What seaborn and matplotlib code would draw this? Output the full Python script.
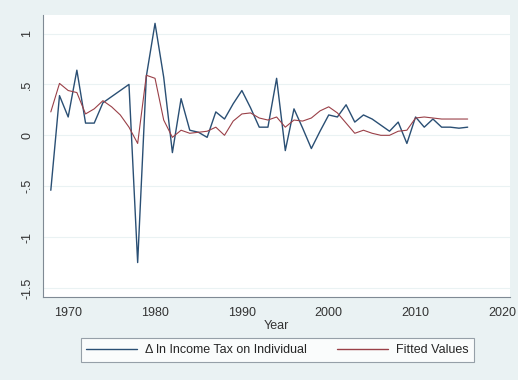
import numpy as np
import pandas as pd
import seaborn as sns
import matplotlib.pyplot as plt

years = list(range(1968, 2017))
actual = [-0.54, 0.39, 0.18, 0.64, 0.12, 0.12, 0.32, np.nan, np.nan, 0.50,
          -1.25, 0.58, 1.10, 0.57, -0.17, 0.36, 0.05, 0.03, -0.02, 0.23,
          0.16, 0.31, 0.44, 0.27, 0.08, 0.08, 0.56, -0.15, 0.26, 0.07,
          -0.13, 0.04, 0.20, 0.18, 0.30, 0.13, 0.20, 0.16, 0.10, 0.04,
          0.13, -0.08, 0.18, 0.08, 0.16, 0.08, 0.08, 0.07, 0.08]
fitted = [0.23, 0.51, 0.44, 0.42, 0.21, 0.26, 0.34, 0.28, 0.20, 0.08,
          -0.08, 0.59, 0.56, 0.15, -0.02, 0.05, 0.02, 0.03, 0.04, 0.08,
          0.00, 0.14, 0.21, 0.22, 0.17, 0.15, 0.18, 0.08, 0.15, 0.14,
          0.17, 0.24, 0.28, 0.22, 0.12, 0.02, 0.05, 0.02, 0.00, 0.00,
          0.04, 0.05, 0.17, 0.18, 0.17, 0.16, 0.16, 0.16, 0.16]
labels = ['Δ ln Income Tax on Individual', 'Fitted Values']
yticks = [-1.5, -1, -0.5, 0, 0.5, 1]
yticklabels = ['-1.5', '-1', '-.5', '0', '.5', '1']
xticks = [1970, 1980, 1990, 2000, 2010, 2020]

df = pd.DataFrame({'Year': years, labels[0]: actual, labels[1]: fitted})
long = df.melt(id_vars='Year', var_name='series', value_name='value').dropna()

sns.set_style('white')
plt.rcParams['font.family'] = ['Liberation Sans', 'DejaVu Sans']

bg = '#eaf2f3'
fig = plt.figure(figsize=(5.18, 3.80), dpi=100, facecolor=bg)
ax = fig.add_axes([0.083, 0.218, 0.902, 0.742])
ax.set_facecolor('white')

pal = {labels[0]: '#2a4f74', labels[1]: '#9a4048'}
sns.lineplot(data=long, x='Year', y='value', hue='series', palette=pal,
             size='series', sizes={labels[0]: 1.0, labels[1]: 0.8},
             estimator=None, sort=True, legend=False, ax=ax)

ax.set_xlim(1967.1, 2020.9)
ax.set_ylim(-1.59, 1.18)
ax.set_yticks(yticks)
ax.set_yticklabels(yticklabels, rotation=90, va='center')
ax.set_xticks(xticks)
for y in yticks:
    ax.axhline(y, color='#eaf2f3', lw=0.8, zorder=0)

for s in ['top', 'right']:
    ax.spines[s].set_visible(False)
for s in ['left', 'bottom']:
    ax.spines[s].set_color('#7f8a94')
    ax.spines[s].set_linewidth(0.8)
ax.tick_params(axis='both', length=4, width=0.8, color='#7f8a94',
               labelsize=9, labelcolor='#333333', pad=3)
ax.set_xlabel('Year', fontsize=9, color='#333333', labelpad=1)
ax.set_ylabel('')

handles = [plt.Line2D([], [], color=pal[l], lw=1.0) for l in labels]
leg = fig.legend(handles, labels, loc='center', bbox_to_anchor=(0.535, 0.079),
                 ncol=2, fontsize=9, frameon=True, fancybox=False,
                 handlelength=4.1, handletextpad=0.6, columnspacing=2.4,
                 borderpad=0.45, borderaxespad=0)
leg.get_frame().set_edgecolor('#7f8a94')
leg.get_frame().set_linewidth(0.8)

fig.savefig('out.png', dpi=100, facecolor=bg)
